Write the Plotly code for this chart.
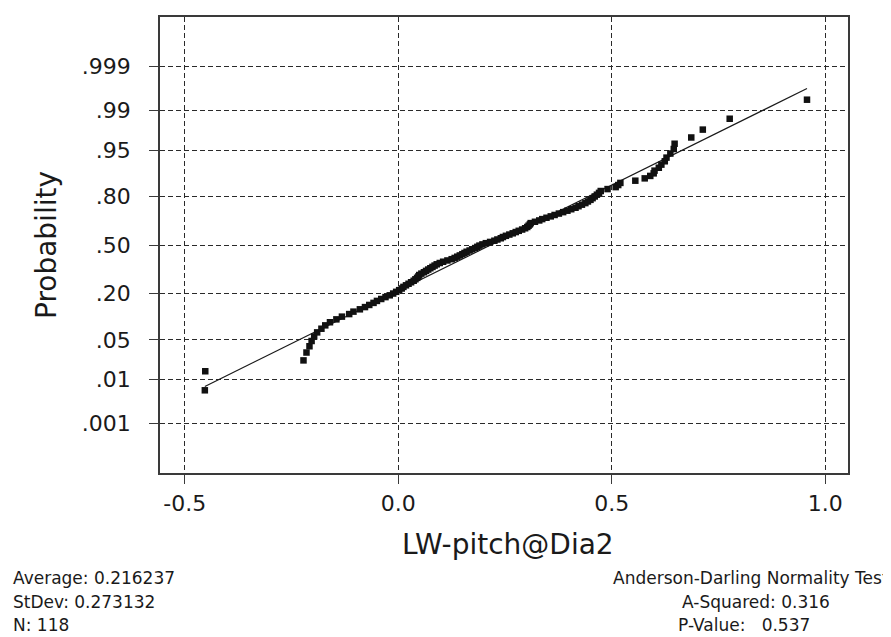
import plotly.graph_objects as go
from statistics import NormalDist

# ---- data (sorted sample values) ----
lw_pitch = [
    -0.453, -0.452, -0.222, -0.215, -0.208, -0.203, -0.197, -0.190, -0.180, -0.171,
    -0.160, -0.145, -0.132, -0.115, -0.105, -0.090, -0.078, -0.068, -0.058, -0.050,
    -0.040, -0.030, -0.020, -0.012, -0.005, 0.002, 0.008, 0.012, 0.018, 0.024,
    0.030, 0.036, 0.040, 0.044, 0.047, 0.049, 0.054, 0.060, 0.065, 0.070,
    0.075, 0.080, 0.085, 0.090, 0.097, 0.105, 0.115, 0.125, 0.132, 0.138,
    0.144, 0.150, 0.155, 0.160, 0.167, 0.173, 0.180, 0.185, 0.190, 0.197,
    0.205, 0.215, 0.225, 0.232, 0.240, 0.245, 0.252, 0.260, 0.268, 0.275,
    0.282, 0.290, 0.297, 0.302, 0.305, 0.308, 0.310, 0.320, 0.330, 0.337,
    0.347, 0.357, 0.366, 0.376, 0.386, 0.396, 0.405, 0.415, 0.422, 0.430,
    0.438, 0.444, 0.450, 0.455, 0.460, 0.465, 0.470, 0.474, 0.490, 0.509,
    0.515, 0.520, 0.555, 0.577, 0.590, 0.598, 0.600, 0.610, 0.616, 0.624,
    0.628, 0.637, 0.645, 0.647, 0.686, 0.713, 0.776, 0.957,
]
average = 0.216237
stdev = 0.273132
n_obs = 118
a_squared = 0.316
p_value = 0.537

prob_ticks = [0.001, 0.01, 0.05, 0.20, 0.50, 0.80, 0.95, 0.99, 0.999]
prob_labels = [".001", ".01", ".05", ".20", ".50", ".80", ".95", ".99", ".999"]
x_ticks = [-0.5, 0.0, 0.5, 1.0]
x_labels = ["-0.5", "0.0", "0.5", "1.0"]

nd = NormalDist()
n = len(lw_pitch)
# probability-plot positions (ranks -> normal scores)
scores = [nd.inv_cdf((i + 1 - 0.3) / (n + 0.4)) for i in range(n)]

# fitted normal line from the reported mean / stdev
xmin, xmax = min(lw_pitch), max(lw_pitch)
fit_x = [xmin, xmax]
fit_y = [(v - average) / stdev for v in fit_x]

FONT = "DejaVu Sans"

fig = go.Figure()
fig.add_trace(go.Scatter(x=fit_x, y=fit_y, mode="lines",
                         line=dict(color="#1a1a1a", width=1.2),
                         showlegend=False, hoverinfo="skip"))
fig.add_trace(go.Scatter(x=lw_pitch, y=scores, mode="markers",
                         marker=dict(symbol="square", size=6.5, color="#111111"),
                         showlegend=False))

grid = dict(showgrid=True, gridcolor="#2a2a2a", gridwidth=1, griddash="5px,3px",
            zeroline=False, showline=True, linecolor="#3a3a3a", linewidth=1.5,
            mirror=True, ticks="outside", ticklen=9, tickcolor="#3a3a3a",
            tickfont=dict(family=FONT, size=22, color="#1a1a1a"))

fig.update_xaxes(range=[-0.558, 1.053], tickvals=x_ticks, ticktext=x_labels,
                 ticklabelstandoff=1, **grid)
fig.update_yaxes(range=[-3.95, 3.95],
                 tickvals=[nd.inv_cdf(p) for p in prob_ticks], ticktext=prob_labels,
                 ticklabelstandoff=14, **grid)

# page body has an 8px margin: shrink the figure so it fits the window
OFF = 8
W, H = 891 - OFF, 637 - OFF
L, R, T, B = 160 - OFF, 43, 15 - OFF, 164
pw, ph = W - L - R, H - T - B


def px(xp):
    return (xp - OFF - L) / pw


def py(yp):
    return (H - B - (yp - OFF)) / ph


ann = []
ann.append(dict(text="Probability", textangle=-90, x=px(46), y=py(244),
                xanchor="center", yanchor="middle",
                font=dict(family=FONT, size=28, color="#1a1a1a")))
ann.append(dict(text="LW-pitch@Dia2", x=px(508), y=py(545),
                xanchor="center", yanchor="middle",
                font=dict(family=FONT, size=28, color="#1a1a1a")))
sfont = dict(family=FONT, size=17, color="#1a1a1a")
ann.append(dict(text=f"Average: {average:.6f}", x=px(11), y=py(578),
                xanchor="left", yanchor="middle", font=sfont))
ann.append(dict(text=f"StDev: {stdev:.6f}", x=px(11), y=py(603),
                xanchor="left", yanchor="middle", font=sfont))
ann.append(dict(text=f"N: {n_obs}", x=px(11), y=py(626),
                xanchor="left", yanchor="middle", font=sfont))
ann.append(dict(text="Anderson-Darling Normality Test", x=px(611), y=py(578),
                xanchor="left", yanchor="middle", font=sfont))
ann.append(dict(text=f"A-Squared: {a_squared:.3f}", x=px(680), y=py(603),
                xanchor="left", yanchor="middle", font=sfont))
ann.append(dict(text="P-Value:\u00a0\u00a0\u00a0" + f"{p_value:.3f}", x=px(676), y=py(626),
                xanchor="left", yanchor="middle", font=sfont))
for a in ann:
    a.update(xref="paper", yref="paper", showarrow=False)

fig.update_layout(width=W, height=H, margin=dict(l=L, r=R, t=T, b=B, pad=0),
                  paper_bgcolor="white", plot_bgcolor="white",
                  font=dict(family=FONT), annotations=ann, showlegend=False)

fig.write_html("out.html")
